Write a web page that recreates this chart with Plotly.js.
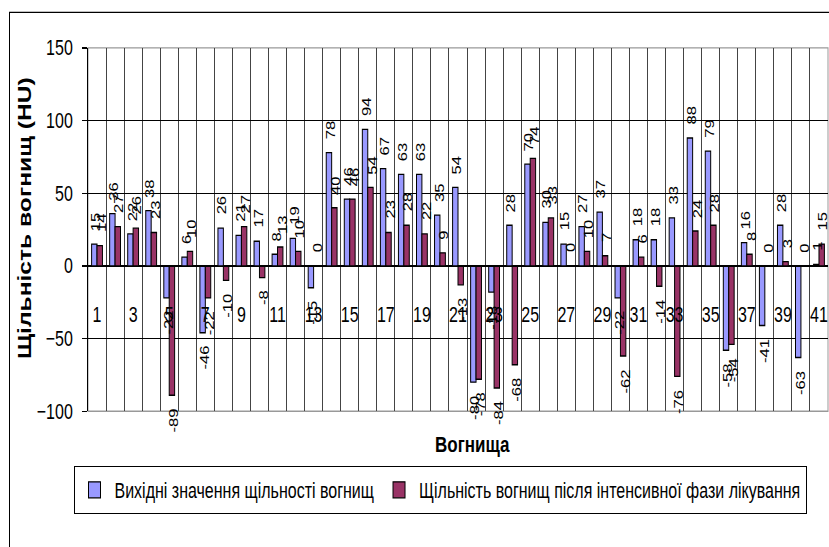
<!DOCTYPE html>
<html>
<head>
<meta charset="utf-8">
<script src="https://cdn.plot.ly/plotly-3.0.1.min.js"></script>
<style>
  html, body { margin: 0; padding: 0; background: #fff; width: 829px; height: 547px; overflow: hidden; }
  #chart { width: 829px; height: 411px; transform-origin: 0 0; }
</style>
</head>
<body>
<div id="chart"></div>
<script>
// Lesion numbers (category axis)
const lesions = [1,2,3,4,5,6,7,8,9,10,11,12,13,14,15,16,17,18,19,20,21,22,23,24,25,26,27,28,29,30,31,32,33,34,35,36,37,38,39,40,41];

// Density before treatment, HU
const baseline = [15,36,22,38,-22,6,-46,26,21,17,8,19,-15,78,46,94,67,63,63,35,54,-80,-18,28,70,30,15,27,37,-22,18,18,33,88,79,-58,16,-41,28,-63,1];

// Density after the intensive phase of treatment, HU
const afterPhase = [14,27,26,23,-89,10,-22,-10,27,-8,13,10,0,40,46,54,23,28,22,9,-13,-78,-84,-68,74,33,0,10,7,-62,6,-14,-76,24,28,-54,8,0,3,0,15];

const seriesNames = [
  'Вихідні значення щільності вогнищ',
  'Щільність вогнищ після інтенсивної фази лікування'
];
const yTitle = 'Щільність вогнищ (HU)';
const xTitle = 'Вогнища';

// Page geometry: the figure is drawn flatter and stretched vertically afterwards
const W = 829, H = 411, SY = 547 / H;
const M = { l: 88, r: 1, t: 36, b: 102 };
const PW = W - M.l - M.r, PH = H - M.t - M.b;
const px = x => (x - M.l) / PW;           // page x -> paper x
const py = y => (H - M.b - y / SY) / PH;  // page y -> paper y

const FONT = 'Liberation Sans, Arial, sans-serif';
const BARGAP = 0.4;
const barW = (1 - BARGAP) / 2;            // width of one bar in category units

function barTrace(vals, name, color) {
  return {
    type: 'bar',
    x: lesions,
    y: vals,
    name: name,
    marker: { color: color, line: { color: '#000', width: 1 } },
    hoverinfo: 'x+y'
  };
}

const data = [
  barTrace(baseline, seriesNames[0], '#9999FF'),
  barTrace(afterPhase, seriesNames[1], '#993366')
];

// Rotated value labels just beyond the end of each bar
function valueLabels(vals, side) {
  return vals.map((v, i) => ({
    x: lesions[i] + side * barW / 2,
    y: v,
    xref: 'x', yref: 'y',
    text: String(v),
    textangle: -90,
    showarrow: false,
    xanchor: 'center',
    yanchor: v >= 0 ? 'bottom' : 'top',
    yshift: v >= 0 ? 9 : -9,
    xshift: 2,
    borderpad: 0,
    font: { family: FONT, size: 12.5, color: '#000' }
  }));
}

const layout = {
  width: W,
  height: H,
  margin: M,
  paper_bgcolor: '#fff',
  plot_bgcolor: '#fff',
  font: { family: FONT, color: '#000', size: 16 },
  barmode: 'group',
  bargap: BARGAP,
  bargroupgap: 0,
  showlegend: true,
  legend: {
    orientation: 'h',
    x: px(440), xanchor: 'center',
    y: py(466), yanchor: 'top',
    bordercolor: '#000', borderwidth: 1,
    font: { family: FONT, size: 16, color: '#000' },
    itemwidth: 30,
    traceorder: 'normal'
  },
  xaxis: {
    type: 'linear',
    range: [0.5, 41.5],
    anchor: 'free',
    position: 0.4,
    tickmode: 'linear', tick0: 1, dtick: 2,
    ticks: '',
    ticklabelstandoff: 22,
    tickfont: { family: FONT, size: 16, color: '#000' },
    showgrid: false,
    zeroline: false,
    showline: true, linecolor: '#000', linewidth: 1,
    minor: { tickmode: 'linear', tick0: 0.5, dtick: 1, showgrid: true, gridcolor: '#444', gridwidth: 1, ticks: '' },
    fixedrange: true
  },
  yaxis: {
    range: [-100, 150],
    tickmode: 'linear', tick0: -100, dtick: 50,
    ticks: 'outside', ticklen: 5, tickcolor: '#000',
    ticklabelstandoff: 6,
    tickfont: { family: FONT, size: 16, color: '#000' },
    showgrid: true, gridcolor: '#000', gridwidth: 1,
    zeroline: false,
    showline: true, linecolor: '#000', linewidth: 1,
    fixedrange: true
  },
  shapes: [
    // plot area frame
    { type: 'rect', xref: 'paper', yref: 'paper', x0: 0, x1: 1, y0: 0, y1: 1,
      line: { color: '#999', width: 1 }, layer: 'below' },
    // chart frame
    { type: 'rect', xref: 'paper', yref: 'paper',
      x0: px(9.5), x1: px(840), y0: py(560), y1: py(12.3),
      line: { color: '#000', width: 1 }, layer: 'below' }
  ],
  annotations: [
    { text: '<b>' + yTitle + '</b>', textangle: -90, showarrow: false,
      xref: 'paper', yref: 'paper', x: px(25), y: py(218),
      xanchor: 'center', yanchor: 'middle',
      font: { family: FONT, size: 18.5, color: '#000' } },
    { text: '<b>' + xTitle + '</b>', showarrow: false,
      xref: 'paper', yref: 'paper', x: px(472), y: py(445),
      xanchor: 'center', yanchor: 'middle',
      font: { family: FONT, size: 17, color: '#000' } }
  ].concat(valueLabels(baseline, -1), valueLabels(afterPhase, 1))
};

const el = document.getElementById('chart');
Plotly.newPlot(el, data, layout, { displayModeBar: false, staticPlot: true }).then(() => {
  el.style.transform = 'scale(1,' + SY + ')';
});
</script>
</body>
</html>
